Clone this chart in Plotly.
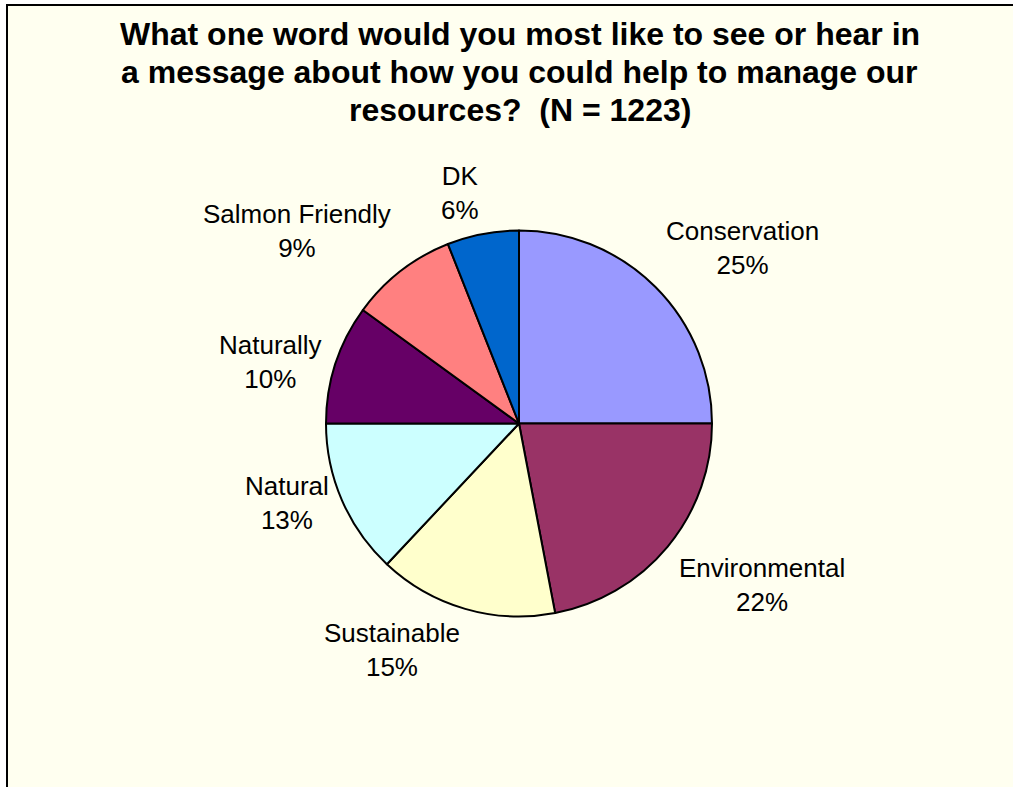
import math
import plotly.graph_objects as go

# Survey answers, in clockwise order from 12 o'clock
labels = ["Conservation", "Environmental", "Sustainable", "Natural",
          "Naturally", "Salmon Friendly", "DK"]
percents = [25, 22, 15, 13, 10, 9, 6]
colors = ["#9999FF", "#993366", "#FFFFCC", "#CCFFFF",
          "#660066", "#FF8080", "#0066CC"]

title_lines = ["What one word would you most like to see or hear in",
               "a message about how you could help to manage our",
               "resources?\u00a0 (N = 1223)"]

W, H = 1013, 787
CX, CY, R = 519.0, 423.5, 193.0     # pie centre / radius in pixels
LX, LY = 205.0, 200.0               # label anchor distance (x / y)
FONT = "Arial, Liberation Sans, sans-serif"

fig = go.Figure()
fig.add_trace(go.Pie(
    labels=labels,
    values=percents,
    sort=False,
    direction="clockwise",
    rotation=0,
    marker=dict(colors=colors, line=dict(color="black", width=2)),
    textinfo="none",
    hoverinfo="label+percent",
    showlegend=False,
    domain=dict(x=[(CX - R) / W, (CX + R) / W],
                y=[1 - (CY + R) / H, 1 - (CY - R) / H]),
))

# Outside labels placed along each slice's mid-angle
total = sum(percents)
cum = 0.0
annotations = []
for lab, val in zip(labels, percents):
    mid = (cum + val / 2) / total * 2 * math.pi
    cum += val
    dx, dy = math.sin(mid), -math.cos(mid)
    px = CX + LX * dx
    py = CY + LY * dy
    xa = "center" if abs(dx) < 0.1 else ("left" if dx > 0 else "right")
    ya = "middle" if abs(dy) < 0.45 else ("top" if dy > 0 else "bottom")
    annotations.append(dict(
        x=px / W, y=1 - py / H, xref="paper", yref="paper",
        text=f"{lab}<br>{round(val / total * 100)}%",
        showarrow=False, xanchor=xa, yanchor=ya, align="center",
        font=dict(family=FONT, size=26, color="black"),
    ))

# Chart title, one annotation per line for tighter leading
for i, line in enumerate(title_lines):
    annotations.append(dict(
        x=519.5 / W, y=1 - (14 + 38 * i) / H, xref="paper", yref="paper",
        text=f"<b>{line}</b>", showarrow=False,
        xanchor="center", yanchor="top",
        font=dict(family=FONT, size=32, color="black"),
    ))

fig.update_layout(
    width=W, height=H,
    margin=dict(l=0, r=0, t=0, b=0),
    paper_bgcolor="white",
    plot_bgcolor="white",
    annotations=annotations,
    shapes=[dict(type="rect", xref="paper", yref="paper",
                 x0=7 / W, x1=1.05, y0=-0.05, y1=1 - 5 / H,
                 fillcolor="#FFFFF0", line=dict(color="black", width=2),
                 layer="below")],
)

fig.write_html("out.html")
